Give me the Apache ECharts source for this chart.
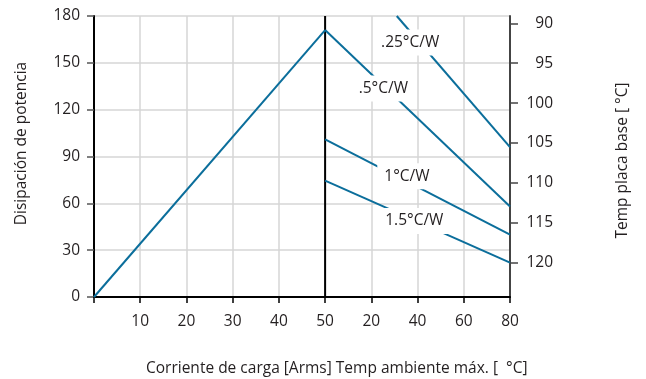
<!DOCTYPE html>
<html>
<head>
<meta charset="utf-8">
<script src="https://cdn.jsdelivr.net/npm/echarts@6/dist/echarts.min.js"></script>
<style>
  html, body { margin: 0; padding: 0; background: #fff; }
  #chart { width: 646px; height: 379px; }
</style>
</head>
<body>
<div id="chart"></div>
<script>
  // eje x: corriente (0-50) y luego temp ambiente (0-80) en la misma escala
  var xTickValues = [10, 20, 30, 40, 50, 60, 70, 80, 90];
  var xTickLabels = ['10', '20', '30', '40', '50', '20', '40', '60', '80'];
  var tempTicks = [90, 95, 100, 105, 110, 115, 120];

  // curva de disipación
  var disipacion = [[0, 0], [50, 171]];
  var limite50 = [[50, 0], [50, 180]];

  // rectas de resistencia térmica
  var r025 = [[65.5, 180], [90, 96]];
  var r05 = [[50, 171], [90, 58]];
  var r1 = [[50, 101], [90, 40]];
  var r15 = [[50, 74.6], [90, 22]];

  // etiquetas de cada recta
  var etiquetas = [
    { name: '.25°C/W', coord: [68.4, 163] },
    { name: '.5°C/W', coord: [62.6, 133.5] },
    { name: '1°C/W', coord: [67.7, 77.3] },
    { name: '1.5°C/W', coord: [69.3, 48.7] }
  ];

  var azul = '#0b6e9b';
  var texto = '#231f20';
  var fuente = 'Open Sans';
  var tam = 15.5;

  var myChart = echarts.init(document.getElementById('chart'));

  function rectaSerie(data, etiqueta) {
    return {
      type: 'line',
      data: data,
      symbol: 'none',
      lineStyle: { color: azul, width: 2 },
      z: 3,
      markPoint: {
        symbol: 'rect',
        symbolSize: 1,
        itemStyle: { color: 'rgba(0,0,0,0)' },
        label: {
          show: true,
          position: 'inside',
          formatter: '{b}',
          color: texto,
          fontFamily: fuente,
          fontSize: tam,
          backgroundColor: '#fff',
          padding: [5, 7]
        },
        data: [{ name: etiqueta.name, coord: etiqueta.coord }]
      }
    };
  }

  var option = {
    animation: false,
    textStyle: { fontFamily: fuente },
    grid: { left: 94, right: 136, top: 16, bottom: 82, outerBoundsMode: 'none', containLabel: false },
    title: {
      text: 'Corriente de carga [Arms] Temp ambiente máx. [  °C]',
      left: 146,
      top: 361,
      padding: 0,
      textStyle: { color: texto, fontFamily: fuente, fontSize: tam, fontWeight: 'normal' }
    },
    xAxis: {
      type: 'value',
      min: 0,
      max: 90,
      interval: 10,
      axisLine: { lineStyle: { color: '#000', width: 2 } },
      axisTick: { show: true, length: 6, lineStyle: { color: '#000', width: 1.5 } },
      axisLabel: {
        margin: 17,
        color: texto,
        fontFamily: fuente,
        fontSize: tam,
        formatter: function (v) {
          var i = xTickValues.indexOf(v);
          return i < 0 ? '' : xTickLabels[i];
        }
      },
      splitLine: { show: true, lineStyle: { color: '#d6d6d6', width: 1.5 } }
    },
    yAxis: [{
      type: 'value',
      min: 0,
      max: 180,
      interval: 30,
      name: 'Disipación de potencia',
      nameLocation: 'middle',
      nameRotate: 90,
      nameGap: 64,
      nameTextStyle: { color: texto, fontFamily: fuente, fontSize: tam, padding: [0, 0, 0, 26] },
      axisLine: { show: true, lineStyle: { color: '#000', width: 2 } },
      axisTick: { show: true, length: 7, lineStyle: { color: '#555', width: 1.5 } },
      axisLabel: { margin: 14, color: texto, fontFamily: fuente, fontSize: tam },
      splitLine: { show: true, lineStyle: { color: '#d6d6d6', width: 1.5 } }
    }, {
      type: 'value',
      position: 'right',
      inverse: true,
      min: 89.08,
      max: 124.31,
      name: 'Temp placa base [ °C]',
      nameLocation: 'middle',
      nameRotate: 90,
      nameGap: 105,
      nameTextStyle: { color: texto, fontFamily: fuente, fontSize: tam, padding: [0, 8, 0, 0] },
      axisLine: { show: true, lineStyle: { color: '#444', width: 2 } },
      axisTick: { show: true, length: 8, customValues: tempTicks, lineStyle: { color: '#444', width: 1.5 } },
      axisLabel: {
        customValues: tempTicks,
        margin: 43,
        align: 'right',
        color: texto,
        fontFamily: fuente,
        fontSize: tam
      },
      splitLine: { show: false }
    }],
    series: [
      {
        type: 'line',
        data: disipacion,
        symbol: 'none',
        lineStyle: { color: azul, width: 2 },
        z: 3
      },
      {
        type: 'line',
        data: limite50,
        symbol: 'none',
        lineStyle: { color: '#000', width: 2 },
        z: 2
      },
      rectaSerie(r025, etiquetas[0]),
      rectaSerie(r05, etiquetas[1]),
      rectaSerie(r1, etiquetas[2]),
      rectaSerie(r15, etiquetas[3])
    ]
  };

  myChart.setOption(option);
</script>
</body>
</html>
